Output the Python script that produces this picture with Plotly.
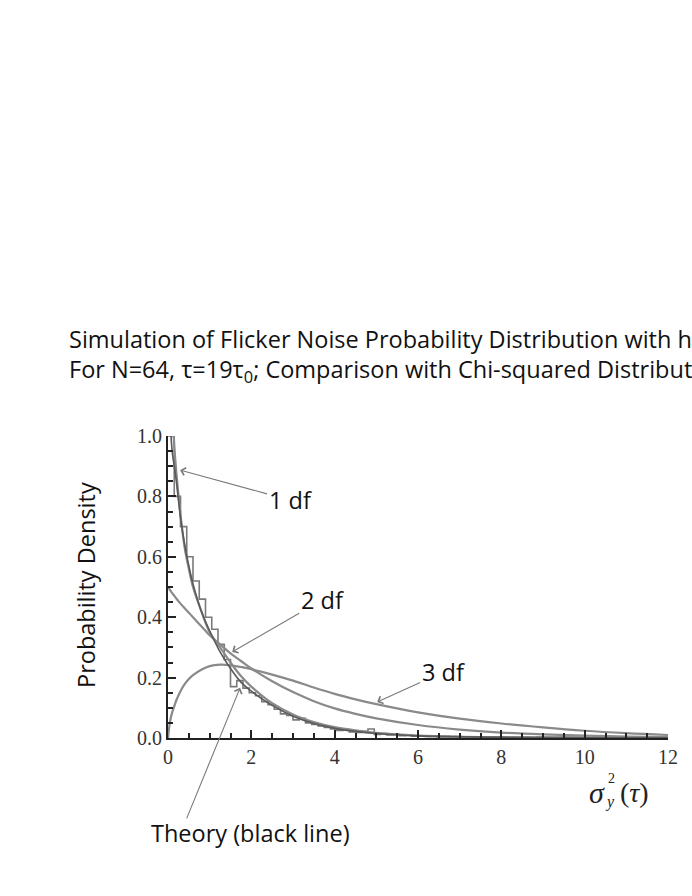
import plotly.graph_objects as go

# ---------------- data ----------------
curve_x = [0.0, 0.05, 0.1, 0.15, 0.2, 0.3, 0.4, 0.5, 0.6, 0.8, 1.0, 1.25, 1.5, 1.75, 2.0,
           2.5, 3.0, 3.5, 4.0, 4.5, 5.0, 6.0, 7.0, 8.0, 9.0, 10.0, 11.0, 12.0]

df1_y = [None, 1.30, 1.10, 0.97, 0.88, 0.74, 0.63, 0.56, 0.50, 0.42, 0.35, 0.30, 0.25, 0.205, 0.17,
         0.115, 0.078, 0.053, 0.036, 0.025, 0.017, 0.008, 0.004, 0.002, 0.0015, 0.001, 0.0007, 0.0005]

theory_y = [None, 1.05, 0.95, 0.90, 0.85, 0.73, 0.64, 0.57, 0.51, 0.42, 0.355, 0.285, 0.23, 0.185, 0.155,
            0.108, 0.072, 0.048, 0.032, 0.022, 0.015, 0.007, 0.004, 0.002, 0.0015, 0.001, 0.0007, 0.0005]

df2_y = [0.50, 0.49, 0.48, 0.471, 0.462, 0.445, 0.43, 0.415, 0.40, 0.37, 0.34, 0.31, 0.28, 0.255, 0.23,
         0.188, 0.152, 0.122, 0.098, 0.08, 0.065, 0.043, 0.028, 0.018, 0.012, 0.008, 0.005, 0.003]

df3_y = [0.0, 0.055, 0.085, 0.105, 0.125, 0.155, 0.178, 0.195, 0.208, 0.226, 0.238, 0.243, 0.241, 0.235, 0.228,
         0.21, 0.19, 0.167, 0.146, 0.128, 0.112, 0.085, 0.064, 0.048, 0.035, 0.024, 0.016, 0.01]

hist_width = 0.15
hist_y = [1.0, 0.80, 0.70, 0.60, 0.52, 0.46, 0.40, 0.36, 0.31, 0.26, 0.17, 0.19, 0.165, 0.15, 0.14,
          0.12, 0.11, 0.095, 0.08, 0.075, 0.06, 0.065, 0.05, 0.045, 0.04, 0.035, 0.03, 0.025, 0.028,
          0.02, 0.018, 0.022, 0.03, 0.012, 0.015, 0.01, 0.012, 0.008, 0.01, 0.006,
          0.006, 0.005, 0.006, 0.004, 0.005, 0.004, 0.005, 0.004, 0.004, 0.003, 0.004, 0.003,
          0.003, 0.004, 0.003, 0.003, 0.002, 0.003, 0.002, 0.003, 0.002, 0.002, 0.002, 0.003,
          0.002, 0.002, 0.002, 0.001, 0.002, 0.002, 0.001, 0.002, 0.001, 0.001, 0.002, 0.001,
          0.001, 0.001, 0.001, 0.001]
hist_edges = [i * hist_width for i in range(len(hist_y) + 1)]

x_ticks = [0, 2, 4, 6, 8, 10, 12]
y_ticks = [0.0, 0.2, 0.4, 0.6, 0.8, 1.0]

title_lines = ["Simulation of Flicker Noise Probability Distribution with h",
               "For N=64, τ=19τ<sub>0</sub>; Comparison with Chi-squared Distribut"]

# ---------------- figure ----------------
W, H = 692, 896
L, R, T, B = 168, 24, 436, 158
pw, ph = W - L - R, H - T - B

def px(x):
    return (x - L) / pw

def py(y):
    return (H - B - y) / ph

fig = go.Figure()

gray = "#8a8a8a"
fig.add_trace(go.Scatter(x=hist_edges, y=hist_y + [hist_y[-1]], mode="lines",
                         line=dict(shape="hv", color="#7a7a7a", width=1.6), hoverinfo="skip"))
fig.add_trace(go.Scatter(x=curve_x, y=df3_y, mode="lines", line=dict(color=gray, width=2.2, shape="spline")))
fig.add_trace(go.Scatter(x=curve_x, y=df2_y, mode="lines", line=dict(color=gray, width=2.2, shape="spline")))
fig.add_trace(go.Scatter(x=curve_x, y=df1_y, mode="lines", line=dict(color=gray, width=2.2, shape="spline")))
fig.add_trace(go.Scatter(x=curve_x, y=theory_y, mode="lines", line=dict(color="#5a5a5a", width=1.6, shape="spline")))

tick_font = dict(family="Liberation Serif", size=20, color="#333333")
axis_common = dict(showgrid=False, zeroline=False, showline=True, linecolor="#222222", linewidth=2,
                   ticks="inside", ticklen=8, tickwidth=2, tickcolor="#222222", tickfont=tick_font)

fig.update_xaxes(range=[0, 12], tickvals=x_ticks, ticktext=[str(v) for v in x_ticks],
                 minor=dict(dtick=0.5, ticks="inside", ticklen=5, tickwidth=1.5, tickcolor="#222222"),
                 **axis_common)
fig.update_yaxes(range=[0, 1.0], tickvals=y_ticks, ticktext=[f"{v:.1f}" for v in y_ticks],
                 minor=dict(dtick=0.05, ticks="inside", ticklen=5, tickwidth=1.5, tickcolor="#222222"),
                 **axis_common)

sans = "Open Sans"
txt_font = dict(family=sans, size=23.5, color="#111")
title_font = dict(family=sans, size=23.5, color="#111")
ann = []
# title
ann.append(dict(text=title_lines[0], x=px(67), y=py(339), xref="paper", yref="paper",
                xanchor="left", yanchor="middle", showarrow=False, font=title_font))
ann.append(dict(text=title_lines[1], x=px(67), y=py(370), xref="paper", yref="paper",
                xanchor="left", yanchor="middle", showarrow=False, font=title_font))
# y axis title
ann.append(dict(text="Probability Density", x=px(86), y=py(585), xref="paper", yref="paper",
                textangle=-90, xanchor="center", yanchor="middle", showarrow=False, font=txt_font))
# x axis label  sigma_y^2(tau)
serif = "Liberation Serif"
ann.append(dict(text="<i>σ</i>", x=px(597), y=py(792), xref="paper", yref="paper",
                xanchor="center", yanchor="middle", showarrow=False, font=dict(family=serif, size=30, color="#222")))
ann.append(dict(text="2", x=px(611), y=py(778), xref="paper", yref="paper",
                xanchor="center", yanchor="middle", showarrow=False, font=dict(family=serif, size=14, color="#222")))
ann.append(dict(text="<i>y</i>", x=px(610), y=py(802), xref="paper", yref="paper",
                xanchor="center", yanchor="middle", showarrow=False, font=dict(family=serif, size=16, color="#222")))
ann.append(dict(text="(<i>τ</i>)", x=px(634), y=py(792), xref="paper", yref="paper",
                xanchor="center", yanchor="middle", showarrow=False, font=dict(family=serif, size=28, color="#222")))

# labels with arrows (tip in data coords, label centre as pixel offset)
arrow_style = dict(showarrow=True, arrowhead=4, arrowsize=1.4, arrowwidth=1.1, arrowcolor="#7a7a7a",
                   font=txt_font, xref="x", yref="y")
ann.append(dict(text="1 df", x=0.29, y=0.887, ax=110, ay=30, **arrow_style))
ann.append(dict(text="2 df", x=1.54, y=0.285, ax=90, ay=-52, **arrow_style))
ann.append(dict(text="3 df", x=5.02, y=0.119, ax=66, ay=-30, **arrow_style))
ann.append(dict(text="Theory (black line)", x=px(149), y=py(833), xref="paper", yref="paper", xanchor="left",
                yanchor="middle", showarrow=False, font=txt_font))
ann.append(dict(text="", x=1.73, y=0.166, ax=-54, ay=132, showarrow=True, arrowhead=4, arrowsize=1.4,
                arrowwidth=1.1, arrowcolor="#7a7a7a", xref="x", yref="y"))

fig.update_layout(width=W, height=H, margin=dict(l=L, r=R, t=T, b=B, autoexpand=False),
                  paper_bgcolor="white", plot_bgcolor="white", showlegend=False, annotations=ann)

fig.write_html("out.html", config={"displayModeBar": False},
               post_script="document.body.style.margin='0';document.body.style.overflow='hidden';"
                           "document.documentElement.style.overflow='hidden';")
